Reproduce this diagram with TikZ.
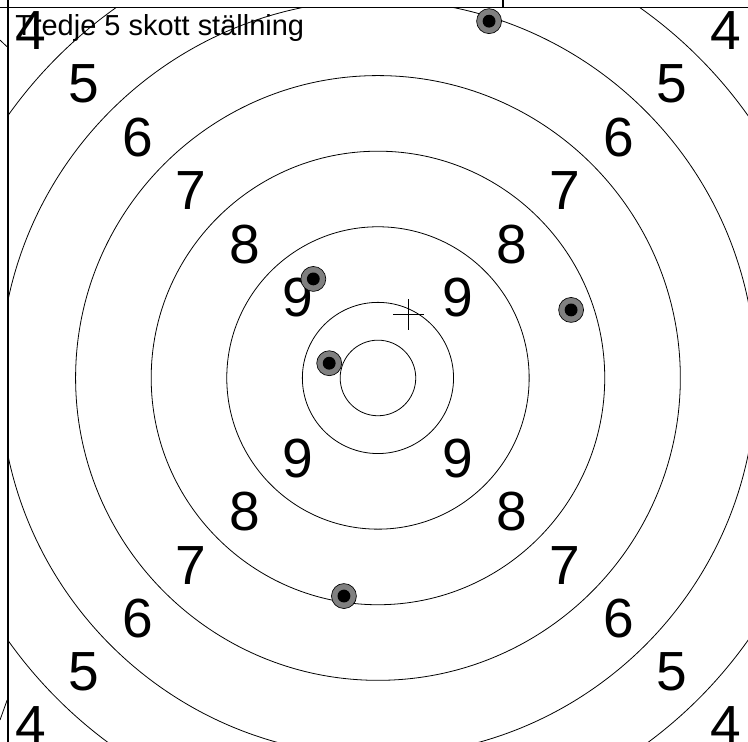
\documentclass[tikz,border=0pt]{standalone}
\usepackage{fontspec}
\setmainfont{Liberation Sans}
\usetikzlibrary{calc}
\definecolor{ink}{HTML}{000000}
\definecolor{shotgray}{HTML}{808080}
\tikzset{
  ring/.style={draw=ink,line width=0.6pt},
  frameline/.style={draw=ink,line width=0.9pt},
  score/.style={font=\fontsize{41.5}{41.5}\selectfont,text=ink,inner sep=0pt},
  heading/.style={font=\fontsize{21.8}{21.8}\selectfont,text=ink,inner sep=0pt,
                  anchor=base west},
  shot/.style={circle,draw=ink,fill=shotgray,line width=0.5pt,
               minimum size=6.6mm,inner sep=0pt},
  hole/.style={circle,fill=ink,minimum size=3.4mm,inner sep=0pt},
  aimline/.style={draw=ink,line width=0.6pt}
}

\begin{document}
\begin{tikzpicture}[x=1cm,y=1cm]
    \useasboundingbox (-10,-9.63) rectangle (9.79,10);

    % target rings
    \begin{scope}
      \clip (-9.79,-9.63) rectangle (9.79,9.80);
      \coordinate (ctr) at (0,0);
      \foreach \r in {1,2,4,6,8,10,12}
        \draw[ring] (ctr) circle (\r);
    \end{scope}

    % frame
    \draw[frameline] (-10,9.80) -- (9.79,9.80);
    \draw[frameline] (-9.79,10) -- (-9.79,-9.63);
    \draw[frameline] (3.31,9.80) -- (3.31,10);
    \draw[ring] (-10,8.94) -- (-9.82,8.77);
    \draw[ring] (-10,-9.05) -- (-9.81,-8.52);

    % ring values
    \foreach \r/\v in {3/9,5/8,7/7,9/6,11/5,13/4}
      \foreach \sx/\sy/\k in {1/1/a,-1/1/b,-1/-1/c,1/-1/d}
        \node[score] (v\v\k) at ({\sx*\r*0.7071},{\sy*\r*0.7071}) {\v};

    \node[heading] (title) at (-9.60,9.07) {Tredje 5 skott ställning};

    % aim point
    \coordinate (aim) at (0.81,1.68);
    \draw[aimline] ($(aim)+(-0.41,0)$) -- ($(aim)+(0.41,0)$);
    \draw[aimline] ($(aim)+(0,-0.41)$) -- ($(aim)+(0,0.41)$);

    % hits
    \foreach \x/\y/\n in {2.94/9.44/1,-1.71/2.62/2,-1.29/0.39/3,5.11/1.80/4,-0.90/-5.77/5}{
      \node[shot] (s\n) at (\x,\y) {};
      \node[hole] (h\n) at (s\n) {};
    }
\end{tikzpicture}
\end{document}
